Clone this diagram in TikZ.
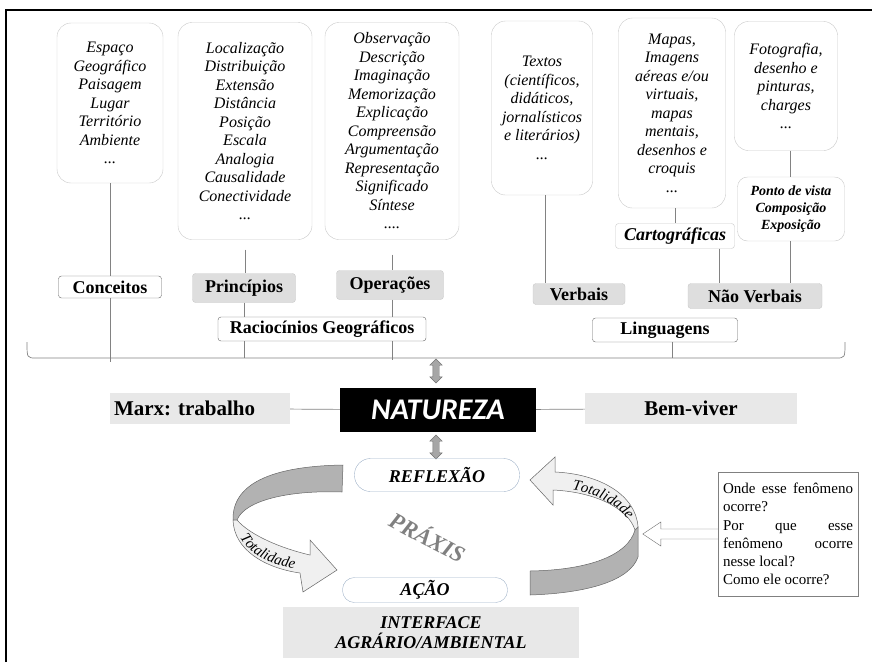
\documentclass[tikz,border=0pt]{standalone}
\usepackage{fontspec}
\setmainfont{Liberation Serif}
\newfontfamily\natfont{Carlito}
\usetikzlibrary{shapes.arrows,decorations.text}
\newcommand\fsz[2]{\fontsize{#1}{#2}\selectfont}

\definecolor{boxgray}{RGB}{200,200,200}
\definecolor{fillgray}{RGB}{222,222,222}
\definecolor{lightfill}{RGB}{232,232,232}
\definecolor{linkgray}{RGB}{130,130,130}
\definecolor{pillblue}{RGB}{160,178,200}
\definecolor{ribdark}{RGB}{178,178,178}
\definecolor{riblight}{RGB}{240,240,240}

\tikzset{
  listbox/.style={draw=boxgray, rounded corners=14pt, align=center, inner sep=2pt, font=\itshape\fsz{16}{18.5}},
  lblbox/.style={draw=black!60, rounded corners=3pt, inner sep=0pt, font=\bfseries\fsz{18}{20}},
  graylbl/.style={lblbox, draw=boxgray, fill=fillgray},
  flatbox/.style={fill=lightfill, inner sep=0pt},
  pill/.style={draw=pillblue, inner sep=0pt, font=\bfseries\itshape\fsz{18}{20}},
  link/.style={draw=linkgray, line width=0.7pt},
  dblarrow/.style={double arrow, draw=black!55, fill=black!35, rotate=90,
    minimum height=24pt, inner xsep=0pt, inner ysep=3pt, double arrow head extend=3pt},
  ribbon/.style={draw=black!60, line width=0.5pt},
  totlbl/.style={decorate, decoration={text along path, text align=center,
    text={|\itshape\fsz{15}{15}|Totalidade}}},
}

\begin{document}
\begin{tikzpicture}[x=1pt,y=-1pt]
\useasboundingbox (0,0) rectangle (872,662);
\draw[line width=2pt] (6,662) -- (6,10) -- (872,10);

% lists
\node[listbox, minimum width=106pt, minimum height=160pt] (conc) at (110,103)
  {Espaço\\Geográfico\\Paisagem\\Lugar\\Território\\Ambiente\\...};
\node[listbox, minimum width=134pt, minimum height=217pt] (prin) at (245,131)
  {Localização\\Distribuição\\Extensão\\Distância\\Posição\\Escala\\Analogia\\Causalidade\\Conectividade\\...};
\node[listbox, minimum width=134pt, minimum height=217pt] (oper) at (392,131)
  {Observação\\Descrição\\Imaginação\\Memorização\\Explicação\\Compreensão\\Argumentação\\Representação\\Significado\\Síntese\\....};
\node[listbox, minimum width=101pt, minimum height=174pt] (verb) at (542,108)
  {Textos\\(científicos,\\didáticos,\\jornalísticos\\e literários)\\...};
\node[listbox, minimum width=107pt, minimum height=190pt] (cart) at (672,113)
  {Mapas,\\Imagens\\aéreas e/ou\\virtuais,\\mapas\\mentais,\\desenhos e\\croquis\\...};
\node[listbox, minimum width=103pt, minimum height=129pt] (foto) at (786,86)
  {Fotografia,\\desenho e\\pinturas,\\charges\\...};
\node[listbox, rounded corners=10pt, font=\bfseries\itshape\fsz{14}{17}, minimum width=107pt, minimum height=64pt] (pont) at (791,209)
  {Ponto de vista\\Composição\\Exposição};

% labels
\node[lblbox, minimum width=103pt, minimum height=22pt] (conclbl) at (110,287) {Conceitos};
\node[graylbl, minimum width=103pt, minimum height=29pt] (prinlbl) at (244,288) {Princípios};
\node[graylbl, minimum width=107pt, minimum height=29pt] (operlbl) at (390,285) {Operações};
\node[graylbl, minimum width=92pt, minimum height=21pt] (verblbl) at (579,294) {Verbais};
\node[graylbl, minimum width=134pt, minimum height=25pt] (naolbl) at (755,296) {Não Verbais};
\node[lblbox, draw=boxgray, font=\bfseries\itshape\fsz{18}{20}, minimum width=119pt, minimum height=25pt] (cartlbl) at (675,236) {Cartográficas};
\node[lblbox, minimum width=208pt, minimum height=24pt] (racio) at (322,329) {Raciocínios Geográficos};
\node[lblbox, minimum width=145pt, minimum height=24pt] (lingu) at (665,330) {Linguagens};

% bracket
\coordinate (brkL) at (27,342);
\coordinate (brkR) at (845,342);
\coordinate (brk) at (436,358);
\draw[link] (brkL) .. controls (27,358) .. (36,358) -- (836,358) .. controls (845,358) .. (brkR);

\draw[link] (conc) -- (conclbl);
\draw[link] (conclbl) -- ([yshift=-4pt]conclbl.south |- brk);
\draw[link, shorten <=10pt] (prin.south) -- (prin.south |- prinlbl.north);
\draw[link] (prinlbl.south) -- (prinlbl.south |- racio.north);
\draw[link] (prinlbl.south |- racio.south) -- (prinlbl.south |- brk);
\draw[link, shorten <=15pt] (oper.south) -- (oper.south |- operlbl.north);
\draw[link] (oper.south |- operlbl.south) -- (oper.south |- racio.north);
\draw[link] (oper.south |- racio.south) -- ([yshift=-2pt]oper.south |- brk);
\draw[link] ([xshift=3pt]verb.south) -- ([xshift=3pt]verb.south |- verblbl.north);
\draw[link] ([xshift=3pt]cart.south) -- ([xshift=3pt]cart.south |- cartlbl.north);
\draw[link] ([xshift=44pt]cartlbl.south) -- ([xshift=44pt]cartlbl.south |- naolbl.north);
\draw[link] ([xshift=4pt]foto.south) -- ([xshift=4pt]foto.south |- pont.north);
\draw[link] ([xshift=-1pt]pont.south) -- ([xshift=-1pt]pont.south |- naolbl.north);
\draw[link] ([xshift=7pt]lingu.south) -- ([xshift=7pt]lingu.south |- brk);

% natureza
\node[fill=black, text=white, font=\natfont\bfseries\itshape\fsz{30}{32}, minimum width=196pt, minimum height=44pt, inner sep=0pt] (natu) at (438,410) {NATUREZA};
\node[flatbox, text width=172pt, align=left, inner xsep=4pt, minimum height=31pt, font=\bfseries\fsz{21}{24}] (marx) at (200,408.5) {Marx:\ trabalho};
\node[flatbox, minimum width=212pt, minimum height=31pt, font=\bfseries\fsz{21}{24}] (bem) at (691,408.5) {Bem-viver};
\draw[link] (marx) -- (natu);
\draw[link] (natu) -- (bem);
\node[dblarrow] (arrtop) at (436,371) {};
\node[dblarrow] (arrbot) at (436,447) {};

% praxis
\node[pill, rounded corners=16pt, minimum width=165pt, minimum height=33pt] (refl) at (437,475) {REFLEXÃO};
\node[pill, rounded corners=12pt, minimum width=165pt, minimum height=25pt] (acao) at (425,590) {AÇÃO};
\node[flatbox, minimum width=296pt, minimum height=51pt, align=center, font=\bfseries\itshape\fsz{18}{20}] (inter) at (431,632.5) {INTERFACE\\AGRÁRIO/AMBIENTAL};
\node[text=black!50, font=\bfseries\itshape\fsz{23}{23}, rotate=-28] (praxis) at (428,536) {PRÁXIS};

% left ribbon
\filldraw[ribbon, fill=ribdark] (343,465) .. controls (280,466) and (232,480) .. (233,520) -- (237,520) .. controls (245,500) and (290,490) .. (342,492) -- cycle;
\filldraw[ribbon, fill=riblight] (233,520) .. controls (234,550) and (265,568) .. (300,573) -- (303,592) -- (337,570) -- (310,540) -- (310,555) .. controls (280,548) and (250,535) .. (237,520) -- cycle;
\path[totlbl] (236,526) .. controls (242,552) and (268,566) .. (306,570);

% right ribbon
\filldraw[ribbon, fill=ribdark] (638,527) -- (638,557) .. controls (630,580) and (590,593) .. (530,595) -- (530,571) .. controls (590,570) and (628,555) .. (635,530) -- cycle;
\filldraw[ribbon, fill=riblight] (638,527) .. controls (636,495) and (600,474) .. (555,472) -- (555,457) -- (530,480) -- (553,505) -- (553,490) .. controls (595,492) and (628,508) .. (635,530) -- cycle;
\path[totlbl] (558,488) .. controls (595,491) and (624,506) .. (635,532);

% questions
\node[draw=black!50, text width=130pt, inner sep=5pt, minimum height=124pt, align=justify,
  font={\fsz{15}{18.3}\hyphenpenalty=10000 \exhyphenpenalty=10000 \tolerance=10000 }] (qbox) at (788,534)
  {Onde esse fenômeno ocorre?\\Por que esse\linebreak fenômeno ocorre\linebreak nesse local?\\Como ele ocorre?\par};
\draw[draw=black!55, fill=white] ([yshift=5pt]qbox.west) -- ++(-57,0) -- ++(0,-7) -- ++(-18,12) -- ++(18,12) -- ++(0,-7) -- ([yshift=-5pt]qbox.west);
\end{tikzpicture}
\end{document}
